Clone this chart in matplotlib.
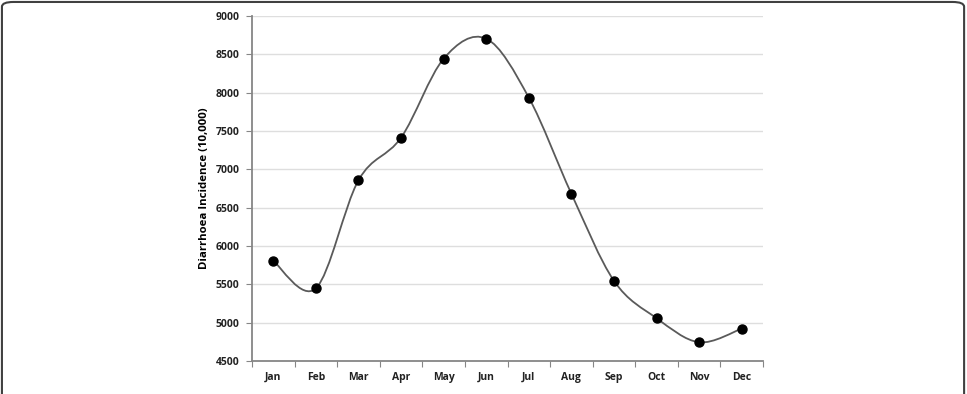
import numpy as np
import matplotlib.pyplot as plt
from matplotlib.path import Path
from matplotlib.patches import PathPatch, FancyBboxPatch
from matplotlib.ticker import FixedLocator

months = ["Jan", "Feb", "Mar", "Apr", "May", "Jun", "Jul", "Aug", "Sep", "Oct", "Nov", "Dec"]
incidence = [5805, 5448, 6857, 7413, 8443, 8704, 7935, 6681, 5545, 5058, 4744, 4922]
yticks = [4500, 5000, 5500, 6000, 6500, 7000, 7500, 8000, 8500, 9000]

plt.rcParams['font.family'] = ['Open Sans', 'DejaVu Sans']

def smooth_path(x, y):
    # Excel-like smoothed line: Catmull-Rom segments as cubic Beziers
    n = len(x)
    verts = [(x[0], y[0])]
    codes = [Path.MOVETO]
    for i in range(n - 1):
        p0 = max(i - 1, 0)
        p3 = min(i + 2, n - 1)
        c1 = (x[i] + (x[i + 1] - x[p0]) / 6, y[i] + (y[i + 1] - y[p0]) / 6)
        c2 = (x[i + 1] - (x[p3] - x[i]) / 6, y[i + 1] - (y[p3] - y[i]) / 6)
        verts += [c1, c2, (x[i + 1], y[i + 1])]
        codes += [Path.CURVE4] * 3
    return Path(verts, codes)

fig = plt.figure(figsize=(9.67, 3.94), dpi=100)
ax = fig.add_axes([0.2606, 0.0838, 0.5285, 0.8756])

xs = np.arange(len(months))
ax.add_patch(PathPatch(smooth_path(xs, incidence), fill=False, edgecolor="#5a5a5a", lw=1.3, zorder=3))
ax.plot(xs, incidence, "o", color="black", markersize=6.5, zorder=4)

ax.set_xlim(-0.5, 11.5)
ax.set_ylim(4500, 9000)
ax.set_yticks(yticks)
ax.set_yticklabels([str(v) for v in yticks], fontsize=7.5, fontweight="bold", color="#222222")
ax.xaxis.set_major_locator(FixedLocator(np.arange(-0.5, 12, 1)))
ax.xaxis.set_minor_locator(FixedLocator(xs))
ax.set_xticklabels([], minor=False)
ax.set_xticks(xs, months, minor=True, fontsize=7.5, fontweight="bold", color="#222222")
ax.tick_params(axis="x", which="major", length=4, color="#868686", direction="out")
ax.tick_params(axis="x", which="minor", length=0, pad=8)
ax.tick_params(axis="y", length=4, color="#868686", direction="out", pad=5)

ax.grid(axis="y", color="#dedede", lw=1)
ax.set_axisbelow(True)
for s in ["top", "right"]:
    ax.spines[s].set_visible(False)
for s in ["left", "bottom"]:
    ax.spines[s].set_color("#868686")
    ax.spines[s].set_linewidth(1.3)

ax.set_ylabel("Diarrhoea Incidence (10,000)", fontsize=8.2, fontweight="bold", labelpad=4)

border = FancyBboxPatch((0.002, -0.05), 0.995, 1.045, boxstyle="round,pad=0,rounding_size=0.012",
                        transform=fig.transFigure, fill=False, edgecolor="#404040", lw=1.5)
fig.patches.append(border)

fig.savefig("out.png", dpi=100)
